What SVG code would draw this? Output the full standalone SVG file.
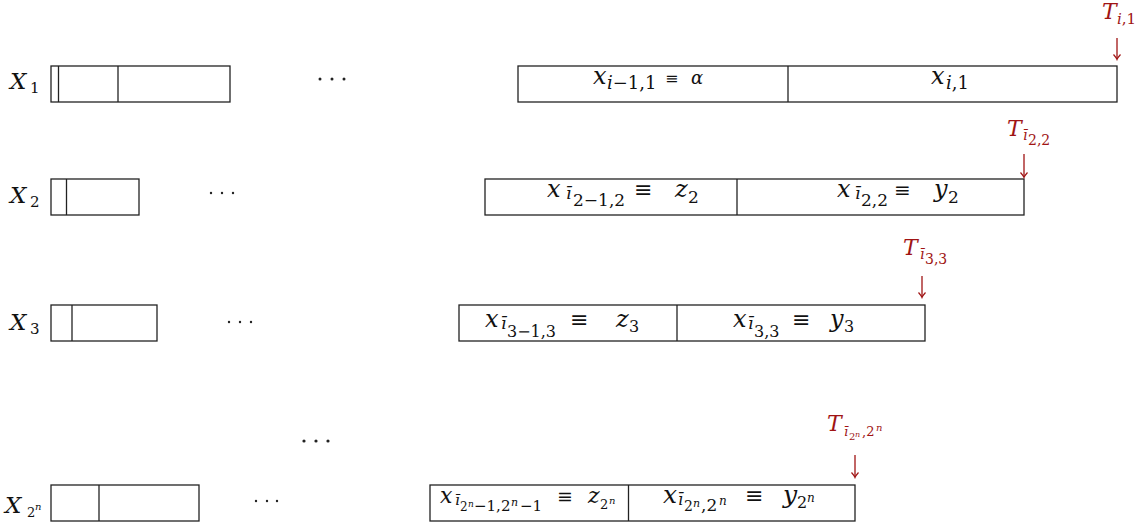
<svg xmlns="http://www.w3.org/2000/svg" width="1143" height="527" viewBox="0 0 1143 527">
<style>
text { fill: #111; font-family: "DejaVu Serif", "Liberation Serif", serif; }
.i { font-style: italic; }
.box { fill: #fff; stroke: #222; stroke-width: 1.3; }
.div { stroke: #222; stroke-width: 1.3; }
.red { fill: #a01414; }
.arr { stroke: #a01414; stroke-width: 1.3; fill: none; marker-end: url(#ah); }
.dot { fill: #222; }
</style>
<defs>
<marker id="ah" markerUnits="userSpaceOnUse" viewBox="-6 -5 8 10" refX="0" refY="0" markerWidth="8" markerHeight="10" orient="auto">
<path d="M-4.5 -3.5 Q-1.5 -0.8 0.5 0 Q-1.5 0.8 -4.5 3.5" fill="none" stroke="#a01414" stroke-width="1.2"/>
</marker>
</defs>

<!-- Row 1 -->
<g id="X1-label"><text><tspan class="i" x="10" y="89" font-size="23">X</tspan><tspan x="30" y="93" font-size="15">1</tspan></text></g>
<g id="X1-left">
<rect class="box" x="51" y="66" width="179" height="36"/>
<line class="div" x1="58.5" y1="66" x2="58.5" y2="102"/>
<line class="div" x1="118" y1="66" x2="118" y2="102"/>
</g>
<g id="dots1"><circle class="dot" cx="320" cy="79" r="1.5"/><circle class="dot" cx="332" cy="79" r="1.5"/><circle class="dot" cx="344" cy="79" r="1.5"/></g>
<g id="X1-right">
<rect class="box" x="518" y="66" width="599" height="36"/>
<line class="div" x1="788" y1="66" x2="788" y2="102"/>
<text><tspan class="i" x="593" y="84" font-size="24">x</tspan><tspan class="i" x="607" y="89" font-size="18">i</tspan><tspan y="89" font-size="18">−1,1</tspan><tspan x="665" y="84" font-size="16">≡</tspan><tspan class="i" x="691" y="84" font-size="18">α</tspan></text>
<text><tspan class="i" x="931" y="84" font-size="24">x</tspan><tspan class="i" x="946" y="89" font-size="18">i</tspan><tspan y="89" font-size="18">,1</tspan></text>
</g>
<g id="T1"><text class="red"><tspan class="i" x="1102" y="19" font-size="22">T</tspan><tspan class="i" x="1117" y="24" font-size="15">i</tspan><tspan y="24" font-size="15">,1</tspan></text></g>

<!-- Row 2 -->
<g id="X2-label"><text><tspan class="i" x="10" y="203" font-size="23">X</tspan><tspan x="30" y="207" font-size="15">2</tspan></text></g>
<g id="X2-left">
<rect class="box" x="51" y="179" width="88" height="36"/>
<line class="div" x1="66.5" y1="179" x2="66.5" y2="215"/>
</g>
<g id="dots2"><circle class="dot" cx="211" cy="193" r="1.2"/><circle class="dot" cx="222" cy="193" r="1.2"/><circle class="dot" cx="233" cy="193" r="1.2"/></g>
<g id="X2-right">
<rect class="box" x="485" y="179" width="539" height="36"/>
<line class="div" x1="737" y1="179" x2="737" y2="215"/>
<text><tspan class="i" x="547" y="197" font-size="24">x</tspan><tspan class="i" x="566" y="199" font-size="17">ī</tspan><tspan x="573" y="206" font-size="17">2−1,2</tspan><tspan x="634" y="197" font-size="22">≡</tspan><tspan class="i" x="675" y="197" font-size="24">z</tspan><tspan x="688" y="203" font-size="17">2</tspan></text>
<text><tspan class="i" x="837" y="197" font-size="24">x</tspan><tspan class="i" x="855" y="199" font-size="17">ī</tspan><tspan x="861" y="206" font-size="17">2,2</tspan><tspan x="894" y="197" font-size="20">≡</tspan><tspan class="i" x="934" y="197" font-size="24">y</tspan><tspan x="948" y="203" font-size="17">2</tspan></text>
</g>
<g id="T2"><text class="red"><tspan class="i" x="1007" y="136" font-size="22">T</tspan><tspan class="i" x="1023" y="140" font-size="14">ī</tspan><tspan x="1028" y="145" font-size="14">2,2</tspan></text></g>

<!-- Row 3 -->
<g id="X3-label"><text><tspan class="i" x="10" y="330" font-size="23">X</tspan><tspan x="30" y="334" font-size="15">3</tspan></text></g>
<g id="X3-left">
<rect class="box" x="51" y="305" width="106" height="36"/>
<line class="div" x1="72" y1="305" x2="72" y2="341"/>
</g>
<g id="dots3"><circle class="dot" cx="229" cy="322" r="1.2"/><circle class="dot" cx="240" cy="322" r="1.2"/><circle class="dot" cx="251" cy="322" r="1.2"/></g>
<g id="X3-right">
<rect class="box" x="459" y="305" width="466" height="36"/>
<line class="div" x1="677" y1="305" x2="677" y2="341"/>
<text><tspan class="i" x="485" y="327" font-size="24">x</tspan><tspan class="i" x="501" y="329" font-size="17">ī</tspan><tspan x="507" y="337" font-size="16">3−1,3</tspan><tspan x="570" y="327" font-size="22">≡</tspan><tspan class="i" x="616" y="327" font-size="24">z</tspan><tspan x="629" y="332" font-size="16">3</tspan></text>
<text><tspan class="i" x="733" y="327" font-size="24">x</tspan><tspan class="i" x="748" y="329" font-size="17">ī</tspan><tspan x="754" y="337" font-size="16">3,3</tspan><tspan x="792" y="327" font-size="22">≡</tspan><tspan class="i" x="830" y="327" font-size="24">y</tspan><tspan x="844" y="332" font-size="16">3</tspan></text>
</g>
<g id="T3"><text class="red"><tspan class="i" x="903" y="255" font-size="22">T</tspan><tspan class="i" x="920" y="259" font-size="14">ī</tspan><tspan x="925" y="264" font-size="14">3,3</tspan></text></g>

<!-- vertical ellipsis between rows -->
<g id="dots-mid"><circle class="dot" cx="304" cy="441" r="1.6"/><circle class="dot" cx="316" cy="441" r="1.6"/><circle class="dot" cx="328" cy="441" r="1.6"/></g>

<!-- Row 4 -->
<g id="X2n-label"><text><tspan class="i" x="5" y="513" font-size="23">X</tspan><tspan x="27" y="517" font-size="13">2</tspan><tspan class="i" x="35" y="510" font-size="10">n</tspan></text></g>
<g id="X2n-left">
<rect class="box" x="51" y="485" width="148" height="36"/>
<line class="div" x1="99" y1="485" x2="99" y2="521"/>
</g>
<g id="dots4"><circle class="dot" cx="256" cy="501" r="1.2"/><circle class="dot" cx="267" cy="501" r="1.2"/><circle class="dot" cx="277" cy="501" r="1.2"/></g>
<g id="X2n-right">
<rect class="box" x="430" y="485" width="425" height="36"/>
<line class="div" x1="628.5" y1="485" x2="628.5" y2="521"/>
<text><tspan class="i" x="440" y="503" font-size="22">x</tspan><tspan class="i" x="455" y="505" font-size="15">ī</tspan><tspan x="460" y="511" font-size="12">2</tspan><tspan class="i" x="468" y="507" font-size="9">n</tspan><tspan x="474" y="511" font-size="15">−1,2</tspan><tspan class="i" x="511" y="506" font-size="11">n</tspan><tspan x="520" y="511" font-size="15">−1</tspan><tspan x="557" y="503" font-size="19">≡</tspan><tspan class="i" x="588" y="503" font-size="22">z</tspan><tspan x="600" y="509" font-size="13">2</tspan><tspan class="i" x="609" y="504" font-size="10">n</tspan></text>
<text><tspan class="i" x="663" y="503" font-size="25">x</tspan><tspan class="i" x="678" y="505" font-size="16">ī</tspan><tspan x="684" y="511" font-size="14">2</tspan><tspan class="i" x="693" y="507" font-size="11">n</tspan><tspan x="701" y="511" font-size="17">,2</tspan><tspan class="i" x="719" y="505" font-size="12">n</tspan><tspan x="745" y="503" font-size="22">≡</tspan><tspan class="i" x="783" y="503" font-size="25">y</tspan><tspan x="797" y="508" font-size="16">2</tspan><tspan class="i" x="807" y="502" font-size="12">n</tspan></text>
</g>
<g id="T4"><text class="red"><tspan class="i" x="827" y="431" font-size="22">T</tspan><tspan class="i" x="844" y="436" font-size="13">ī</tspan><tspan x="849" y="440" font-size="10">2</tspan><tspan class="i" x="855" y="437" font-size="8">n</tspan><tspan x="862" y="436" font-size="13">,2</tspan><tspan class="i" x="876" y="431" font-size="10">n</tspan></text></g>

<!-- connectors -->
<g id="connectors">
<line class="arr" x1="1117" y1="38" x2="1117" y2="59"/>
<line class="arr" x1="1024" y1="154" x2="1024" y2="177"/>
<line class="arr" x1="922" y1="276" x2="922" y2="297"/>
<line class="arr" x1="855" y1="455" x2="855" y2="477"/>
</g>
</svg>
